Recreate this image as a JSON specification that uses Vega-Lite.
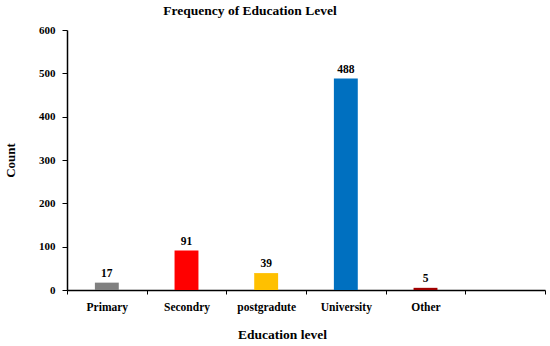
{
  "$schema": "https://vega.github.io/schema/vega-lite/v6.json",
  "width": 478,
  "height": 260,
  "autosize": "none",
  "padding": {"left": 67, "top": 30, "right": 5, "bottom": 56},
  "background": "white",
  "title": {"text": "Frequency of Education Level", "font": "Liberation Serif", "fontSize": 13.5, "fontWeight": "bold", "color": "#000000", "dx": -56, "offset": 7},
  "config": {"view": {"stroke": null}, "font": "Liberation Serif"},
  "data": {"values": [
    {"level": "Primary", "count": 17},
    {"level": "Secondry", "count": 91},
    {"level": "postgradute", "count": 39},
    {"level": "University", "count": 488},
    {"level": "Other", "count": 5}
  ]},
  "encoding": {
    "x": {"field": "level", "type": "nominal", "sort": null,
      "scale": {"domain": ["Primary", "Secondry", "postgradute", "University", "Other", " "], "paddingInner": 0, "paddingOuter": 0},
      "axis": {"title": "Education level", "labelAngle": 0, "bandPosition": 0, "tickBand": "extent", "labelFont": "Liberation Serif", "labelFontWeight": "bold", "labelFontSize": 11.5, "labelColor": "#000000", "labelPadding": 7, "tickSize": 4, "tickColor": "#000000", "domainColor": "#000000", "domainWidth": 1.5, "titleFont": "Liberation Serif", "titleFontSize": 13.5, "titleFontWeight": "bold", "titleColor": "#000000", "titlePadding": 15, "titleX": 215}},
    "y": {"field": "count", "type": "quantitative",
      "scale": {"domain": [0, 600]},
      "axis": {"title": "Count", "values": [0, 100, 200, 300, 400, 500, 600], "grid": false, "labelFont": "Liberation Serif", "labelFontWeight": "bold", "labelFontSize": 11, "labelColor": "#000000", "labelPadding": 7, "tickSize": 5, "tickColor": "#000000", "domainColor": "#000000", "domainWidth": 1.5, "titleFont": "Liberation Serif", "titleFontSize": 13, "titleFontWeight": "bold", "titleColor": "#000000", "titlePadding": 21}}
  },
  "layer": [
    {"mark": {"type": "bar", "width": {"band": 0.3}},
     "encoding": {"color": {"field": "level", "type": "nominal", "legend": null,
       "scale": {"domain": ["Primary", "Secondry", "postgradute", "University", "Other"], "range": ["#808080", "#FF0000", "#FFC000", "#0070C0", "#A00000"]}}}},
    {"mark": {"type": "text", "dy": -9, "font": "Liberation Serif", "fontWeight": "bold", "fontSize": 11.5, "color": "#000000"},
     "encoding": {"text": {"field": "count", "type": "quantitative"}}}
  ]
}
